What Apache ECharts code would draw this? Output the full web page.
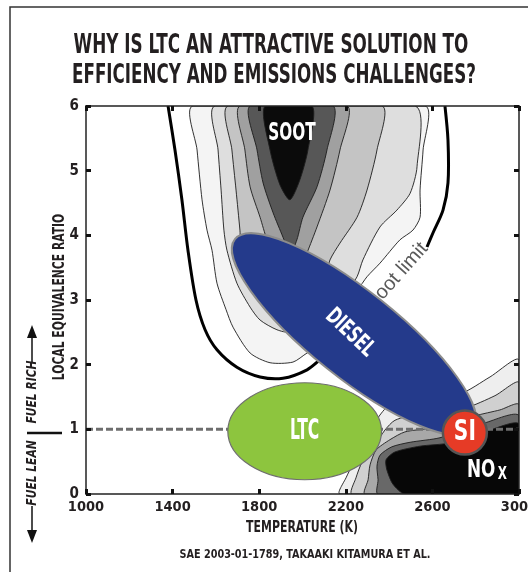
<!DOCTYPE html>
<html><head><meta charset="utf-8">
<script src="https://cdn.jsdelivr.net/npm/echarts@6/dist/echarts.min.js"></script>
<style>html,body{margin:0;padding:0;background:#fff}#c{width:528px;height:572px}</style>
</head><body><div id="c"></div>
<script>
const FONT = "'DejaVu Sans Condensed','Liberation Sans Narrow','Liberation Sans',sans-serif";

// ---------------- data ----------------
const titleLines = ['WHY IS LTC AN ATTRACTIVE SOLUTION TO', 'EFFICIENCY AND EMISSIONS CHALLENGES?'];
const sourceText = 'SAE 2003-01-1789, TAKAAKI KITAMURA ET AL.';
const xName = 'TEMPERATURE (K)';
const yName = 'LOCAL EQUIVALENCE RATIO';
const xRange = [1000, 3000], xStep = 400;
const yRange = [0, 6], yStep = 1;
const stoichLine = [[1000, 1], [3000, 1]];

// soot limit curve (thick black), two visible parts
const sootLimitLeft = [[1379,6.0],[1411,5.32],[1443,4.55],[1471,3.77],[1508,3.0],[1550,2.54],[1605,2.23],[1697,1.96],[1804,1.81],[1910,1.79],[2021,1.92],[2090,2.10],[2173,2.30]];
const sootLimitRight = [[2658,6.0],[2672,5.47],[2672,4.81],[2649,4.39],[2603,4.04],[2575,3.82]];

// soot contour levels, outer -> inner
const soot1 = [[1494,6],[1513,5.32],[1536,4.55],[1559,4.08],[1582,3.77],[1605,3.26],[1647,2.85],[1679,2.58],[1758,2.18],[1850,2.03],[1956,2.04],[2021,2.18],[2090,2.30],[2196,3.0],[2252,3.15],[2298,3.36],[2358,3.57],[2450,3.93],[2510,4.08],[2543,4.28],[2543,4.70],[2557,5.32],[2566,6]];
const soot2 = [[1596,6],[1610,5.32],[1624,4.70],[1637,4.08],[1651,3.77],[1697,3.26],[1758,2.89],[1804,2.69],[1882,2.54],[1942,2.51],[2127,3.0],[2206,3.15],[2252,3.36],[2279,3.62],[2358,4.13],[2436,4.39],[2497,4.65],[2529,5.06],[2520,6]];
const soot3 = [[1656,6],[1674,5.32],[1693,4.70],[1711,4.08],[1721,3.70],[1850,3.15],[2081,3.15],[2127,3.62],[2173,3.88],[2252,4.28],[2298,4.70],[2344,5.32],[2367,6]];
const soot4 = [[1711,6],[1734,5.32],[1758,4.75],[1804,4.28],[1836,3.93],[1896,3.46],[1988,3.46],[2021,3.73],[2067,4.13],[2127,4.70],[2173,5.32],[2206,6]];
const soot5 = [[1758,6],[1790,5.32],[1818,4.81],[1864,4.35],[1910,3.97],[1942,3.70],[1974,3.93],[2002,4.28],[2067,4.75],[2113,5.32],[2141,6]];
const sootCore = [[1827,6],[1850,5.32],[1896,4.78],[1942,4.55],[1988,4.86],[2025,5.32],[2044,6]];

// NOx contour levels, outer -> inner
const nox1 = [[2173,0],[2201,0.25],[2266,0.68],[2349,1.18],[2413,1.41],[2589,1.58],[2727,1.55],[2866,1.81],[3000,2.07],[3000,0]];
const nox2 = [[2229,0],[2247,0.25],[2275,0.49],[2335,0.76],[2381,0.99],[2427,1.14],[2543,1.25],[2751,1.33],[2889,1.52],[3000,1.72],[3000,0]];
const nox3 = [[2289,0],[2303,0.22],[2312,0.45],[2340,0.68],[2404,0.84],[2473,0.96],[2589,1.02],[2797,1.21],[2912,1.30],[3000,1.38],[3000,0]];
const nox4 = [[2349,0],[2349,0.22],[2344,0.43],[2358,0.60],[2413,0.73],[2497,0.80],[2635,0.87],[2843,1.10],[3000,1.21],[3000,0]];
const nox5 = [[2473,0],[2418,0.15],[2390,0.37],[2386,0.53],[2427,0.65],[2543,0.74],[2681,0.79],[2866,0.99],[3000,1.08],[3000,0]];

// combustion regimes
const dieselCenter = [2238, 2.47];
const dieselTip = [1688, 3.94];
const ltcCenter = [2010, 0.97];
const ltcHalfSpan = [355, 0.75];
const siPoint = [2750, 0.95];

// label anchors
const sootLabelAt = [1951, 5.58];
const dieselLabelAt = [2219, 2.49];
const noxLabelAt = [2852, 0.37];
const sootLimitLabelAt = [2436, 3.37];

// ---------------- styles ----------------
const sootLevels = [soot1, soot2, soot3, soot4, soot5, sootCore];
const sootFills = ['#f4f4f4', '#dedede', '#c4c4c4', '#a0a0a0', '#575757', '#0b0b0b'];
const noxLevels = [nox1, nox2, nox3, nox4, nox5];
const noxFills = ['#eeeeee', '#d0d0d0', '#a8a8a8', '#686868', '#070707'];
const DIESEL_ASPECT = 0.285;
const INK = '#231f20';

let zc = 2;
function gridBox(api) {
  const a = api.coord([xRange[0], yRange[1]]), b = api.coord([xRange[1], yRange[0]]);
  return [a, b];
}
function polygonSeries(pts, fill) {
  return {
    type: 'custom', coordinateSystem: 'cartesian2d', silent: true, clip: true, z: zc++,
    data: [pts[0]],
    renderItem: (p, api) => ({
      type: 'polygon',
      shape: { points: pts.map(q => api.coord(q)), smooth: 0.25, smoothConstraint: gridBox(api) },
      style: { fill: fill, stroke: '#1c1c1c', lineWidth: 0.9 }
    })
  };
}
function polylineSeries(pts, width) {
  return {
    type: 'custom', coordinateSystem: 'cartesian2d', silent: true, clip: true, z: zc++,
    data: [pts[0]],
    renderItem: (p, api) => ({
      type: 'polyline',
      shape: { points: pts.map(q => api.coord(q)), smooth: 0.3 },
      style: { fill: null, stroke: '#000', lineWidth: width }
    })
  };
}
function textSeries(at, textStyle, rotation, scaleX) {
  return {
    type: 'custom', coordinateSystem: 'cartesian2d', silent: true, z: zc++,
    data: [at],
    renderItem: (p, api) => {
      const c = api.coord(at);
      return {
        type: 'text', x: c[0], y: c[1], rotation: rotation || 0, scaleX: scaleX || 1,
        style: Object.assign({ align: 'center', verticalAlign: 'middle', fontFamily: FONT, fontWeight: 'bold', fill: '#fff' }, textStyle)
      };
    }
  };
}

const series = [];
sootLevels.forEach((pts, i) => series.push(polygonSeries(pts, sootFills[i])));
noxLevels.forEach((pts, i) => series.push(polygonSeries(pts, noxFills[i])));
series.push(polylineSeries(sootLimitLeft, 3));
series.push(polylineSeries(sootLimitRight, 3));
series.push(textSeries(sootLimitLabelAt, { text: 'Soot limit', fill: '#5a5a5a', fontWeight: 'normal', fontFamily: "'Liberation Sans',Arial,sans-serif", fontSize: 20 }, 0.84, 1));
series.push({
  type: 'line', data: stoichLine, silent: true, z: zc++, symbol: 'none',
  lineStyle: { color: '#6e6e6e', width: 3, type: [7, 3] }
});
series.push({
  type: 'custom', coordinateSystem: 'cartesian2d', silent: true, z: zc++,
  data: [dieselCenter],
  renderItem: (p, api) => {
    const c = api.coord(dieselCenter), e = api.coord(dieselTip);
    const dx = e[0] - c[0], dy = e[1] - c[1];
    const a = Math.hypot(dx, dy);
    return {
      type: 'ellipse', x: c[0], y: c[1], rotation: Math.atan2(-dy, dx),
      shape: { cx: 0, cy: 0, rx: a, ry: a * DIESEL_ASPECT },
      style: { fill: '#243a8b', stroke: '#8c8c8c', lineWidth: 2 }
    };
  }
});
series.push({
  type: 'custom', coordinateSystem: 'cartesian2d', silent: true, z: zc++,
  data: [ltcCenter],
  renderItem: (p, api) => {
    const c = api.coord(ltcCenter);
    const s = api.size(ltcHalfSpan);
    return {
      type: 'ellipse',
      shape: { cx: c[0], cy: c[1], rx: s[0], ry: s[1] },
      style: { fill: '#8dc53e', stroke: '#6e6e6e', lineWidth: 1.2 }
    };
  }
});
series.push({
  type: 'scatter', data: [siPoint], silent: true, z: zc++, symbolSize: 44,
  itemStyle: { color: '#e63b26', borderColor: '#555', borderWidth: 2.5, opacity: 1 }
});
series.push(textSeries(sootLabelAt, { text: 'SOOT', fontSize: 25 }, 0, 0.68));
series.push(textSeries(dieselLabelAt, { text: 'DIESEL', fontSize: 23 }, -0.76, 0.72));
series.push(textSeries(ltcCenter, { text: 'LTC', fontSize: 28 }, 0, 0.62));
series.push(textSeries(siPoint, { text: 'SI', fontSize: 28 }, 0, 0.8));
series.push(textSeries(noxLabelAt, {
  text: '{a|NO}{b|X}',
  rich: { a: { fontSize: 24, fontWeight: 'bold', fontFamily: FONT, fill: '#fff', color: '#fff', verticalAlign: 'bottom', lineHeight: 26 },
          b: { fontSize: 17, fontWeight: 'bold', fontFamily: FONT, fill: '#fff', color: '#fff', padding: [10, 0, 0, 3], verticalAlign: 'bottom', lineHeight: 26 } }
}, 0, 0.78));

const axisFont = { fontFamily: FONT, fontWeight: 'bold', color: INK };
function xAxisDef(pos, main) {
  return {
    type: 'value', position: pos, min: xRange[0], max: xRange[1], interval: xStep, z: 50,
    axisLine: { show: true, onZero: false, lineStyle: { color: '#222', width: 1.5 } },
    axisTick: { show: true, inside: true, length: 5, lineStyle: { color: '#111', width: 3 } },
    axisLabel: Object.assign({ show: main, margin: 6, fontSize: 14.5, formatter: v => String(v) }, axisFont),
    splitLine: { show: false }
  };
}
function yAxisDef(pos, main) {
  return {
    type: 'value', position: pos, min: yRange[0], max: yRange[1], interval: yStep, z: 50,
    axisLine: { show: true, onZero: false, lineStyle: { color: '#222', width: 1.5 } },
    axisTick: { show: true, inside: true, length: 5, lineStyle: { color: '#111', width: 3 } },
    axisLabel: Object.assign({ show: main, margin: 7, fontSize: 15, formatter: v => String(v) }, axisFont),
    splitLine: { show: false }
  };
}

const arrowColor = '#111';
function label(text, x, y, size, sx, extra) {
  return Object.assign({ type: 'text', x: x, y: y, scaleX: sx, z: 100,
    style: { text: text, align: 'center', verticalAlign: 'middle', fontFamily: FONT, fontWeight: 'bold', fontSize: size, fill: INK } }, extra || {});
}
const option = {
  animation: false,
  backgroundColor: '#fff',
  grid: { left: 86, right: 9, top: 106, bottom: 78, containLabel: false, outerBoundsMode: 'none' },
  xAxis: [xAxisDef('bottom', true), xAxisDef('top', false)],
  yAxis: [yAxisDef('left', true), yAxisDef('right', false)],
  series: series,
  graphic: [
    { type: 'rect', shape: { x: 10, y: 7, width: 540, height: 600 }, style: { fill: 'none', stroke: '#333', lineWidth: 1.5 }, z: 100 },
    label(titleLines[0], 271, 46, 26, 0.72),
    label(titleLines[1], 274, 76, 26, 0.715),
    label(xName, 302, 528, 16, 0.76),
    label(yName, 60, 297, 15, 0.80, { rotation: Math.PI / 2 }),
    label(sourceText, 305, 555, 12.5, 0.86),
    label('FUEL RICH', 32, 392, 14, 0.85, { rotation: Math.PI / 2, style: { text: 'FUEL RICH', align: 'center', verticalAlign: 'middle', fontFamily: FONT, fontWeight: 'bold', fontStyle: 'italic', fontSize: 14, fill: INK } }),
    label('FUEL LEAN', 32, 473, 14, 0.85, { rotation: Math.PI / 2, style: { text: 'FUEL LEAN', align: 'center', verticalAlign: 'middle', fontFamily: FONT, fontWeight: 'bold', fontStyle: 'italic', fontSize: 14, fill: INK } }),
    { type: 'line', shape: { x1: 32, y1: 362, x2: 32, y2: 334 }, style: { stroke: arrowColor, lineWidth: 1.5 }, z: 100 },
    { type: 'polygon', shape: { points: [[32, 325], [27, 338], [37, 338]] }, style: { fill: arrowColor }, z: 100 },
    { type: 'line', shape: { x1: 32, y1: 506, x2: 32, y2: 533 }, style: { stroke: arrowColor, lineWidth: 1.5 }, z: 100 },
    { type: 'polygon', shape: { points: [[32, 543], [27, 530], [37, 530]] }, style: { fill: arrowColor }, z: 100 },
    { type: 'line', shape: { x1: 27, y1: 433, x2: 62, y2: 433 }, style: { stroke: arrowColor, lineWidth: 2.5 }, z: 100 }
  ]
};
const chart = echarts.init(document.getElementById('c'));
chart.setOption(option);
</script>
</body></html>
